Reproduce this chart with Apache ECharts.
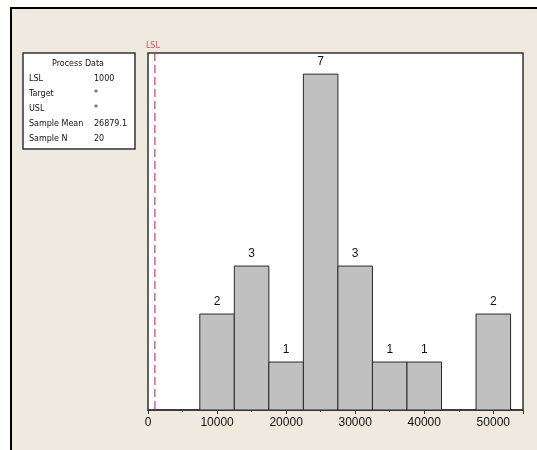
<!DOCTYPE html>
<html>
<head>
<meta charset="utf-8">
<script src="https://cdn.jsdelivr.net/npm/echarts@6/dist/echarts.min.js"></script>
<style>
html,body{margin:0;padding:0;background:#ffffff;}
#c{width:537px;height:450px;}
</style>
</head>
<body>
<div id="c"></div>
<script>
// Data
const binCenters = [10000, 15000, 20000, 25000, 30000, 35000, 40000, 45000, 50000];
const counts     = [2, 3, 1, 7, 3, 1, 1, 0, 2];
const binWidth = 5000;
const lsl = 1000;
const processLabels = ['LSL', 'Target', 'USL', 'Sample Mean', 'Sample N'];
const processValues = ['1000', '*', '*', '26879.1', '20'];

const chart = echarts.init(document.getElementById('c'), null, {renderer: 'canvas'});
const bg = '#EEEAE0';
const txtFont = 'DejaVu Sans';
const yMax = 7.44;

const boxX = 23, boxY = 53, boxW = 112, boxH = 96;
const boxGraphics = [
  {type: 'rect', shape: {x: 11, y: 8, width: 526, height: 442}, style: {fill: bg}, z: -10, silent: true},
  {type: 'polyline', shape: {points: [[11, 450], [11, 8], [537, 8]]}, style: {stroke: '#000', lineWidth: 2, fill: null}, z: -9},
  {type: 'rect', shape: {x: boxX, y: boxY, width: boxW, height: boxH}, style: {fill: '#fff', stroke: '#333', lineWidth: 1.5}},
  {type: 'text', x: 78, y: 64, style: {text: 'Process Data', font: '8px "' + txtFont + '"', fill: '#111', align: 'center', verticalAlign: 'middle'}}
];
processLabels.forEach((l, i) => {
  const y = 79 + i * 15;
  boxGraphics.push({type: 'text', x: 29, y: y, style: {text: l, font: '8px "' + txtFont + '"', fill: '#111', verticalAlign: 'middle'}});
  boxGraphics.push({type: 'text', x: 94, y: y, style: {text: processValues[i], font: '8px "' + txtFont + '"', fill: '#111', verticalAlign: 'middle'}});
});

const option = {
  backgroundColor: '#ffffff',
  animation: false,
  graphic: boxGraphics,
  grid: {left: 148, top: 53, right: 14, bottom: 40, show: true, backgroundColor: '#ffffff', borderColor: '#333', borderWidth: 1.5},
  xAxis: {
    type: 'value', min: 0, max: 54300, interval: 10000,
    axisLine: {show: true, onZero: false, lineStyle: {color: '#333', width: 1.5}},
    axisTick: {show: true, length: 4, lineStyle: {color: '#333'}},
    minorTick: {show: true, splitNumber: 2, length: 2, lineStyle: {color: '#333'}},
    splitLine: {show: false},
    axisLabel: {color: '#111', fontFamily: 'Liberation Sans', fontSize: 12, margin: 7,
      formatter: v => v > 50000 ? '' : String(v)}
  },
  yAxis: {
    type: 'value', min: 0, max: yMax, show: false, splitLine: {show: false}
  },
  series: [{
    type: 'custom',
    data: binCenters.map((c, i) => [c, counts[i]]),
    renderItem: function (params, api) {
      const c = api.value(0), n = api.value(1);
      if (!n) return null;
      const p0 = api.coord([c - binWidth / 2, n]);
      const p1 = api.coord([c + binWidth / 2, 0]);
      return {
        type: 'group',
        children: [
          {type: 'rect', shape: {x: p0[0], y: p0[1], width: p1[0] - p0[0], height: p1[1] - p0[1]},
           style: {fill: '#C0C0C0', stroke: '#2a2a2a', lineWidth: 1}},
          {type: 'text', x: (p0[0] + p1[0]) / 2, y: p0[1] - 6,
           style: {text: String(n), font: '12px "Liberation Sans"', fill: '#111', align: 'center', verticalAlign: 'bottom'}}
        ]
      };
    }
  }, {
    type: 'custom',
    silent: true,
    clip: false,
    z: 5,
    data: [[lsl]],
    renderItem: function (params, api) {
      const x = api.value(0);
      const top = api.coord([x, yMax]);
      const bot = api.coord([x, 0]);
      return {
        type: 'group',
        children: [
          {type: 'line', shape: {x1: top[0], y1: top[1], x2: bot[0], y2: bot[1]},
           style: {stroke: '#e0102a', lineWidth: 1, lineDash: [8, 4]}},
          {type: 'text', x: top[0] - 2, y: top[1] - 3,
           style: {text: 'LSL', font: '8px "' + txtFont + '"', fill: '#f04858', align: 'center', verticalAlign: 'bottom'}}
        ]
      };
    }
  }]
};
chart.setOption(option);
</script>
</body>
</html>
